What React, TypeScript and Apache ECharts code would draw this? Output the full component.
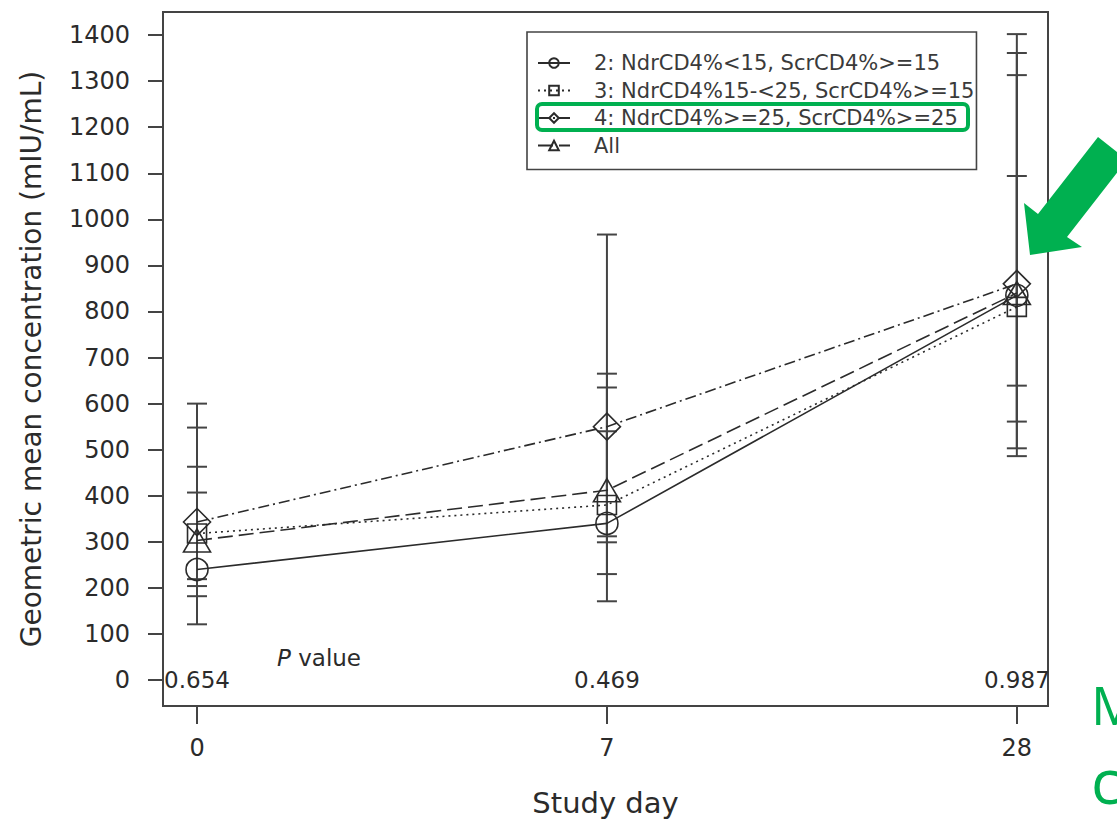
import React, { useEffect, useRef } from "react";
import * as echarts from "echarts";

// ---- data ----
const DAYS = ["0", "7", "28"];
const X_INDEX = [0, 1, 2];
const Y_TICKS = [0, 100, 200, 300, 400, 500, 600, 700, 800, 900, 1000, 1100, 1200, 1300, 1400];
const P_VALUES = ["0.654", "0.469", "0.987"];

const SERIES_NAMES = [
  "2: NdrCD4%<15, ScrCD4%>=15",
  "3: NdrCD4%15-<25, ScrCD4%>=15",
  "4: NdrCD4%>=25, ScrCD4%>=25",
  "All",
];
const G2_MEAN = [240, 340, 835];
const G2_LOW = [121, 171, 503];
const G2_HIGH = [463, 665, 1402];
const G3_MEAN = [318, 380, 810];
const G3_LOW = [182, 230, 486];
const G3_HIGH = [548, 635, 1361];
const G4_MEAN = [343, 550, 860];
const G4_LOW = [204, 299, 561];
const G4_HIGH = [600, 967, 1313];
const ALL_MEAN = [303, 412, 840];
const ALL_LOW = [219, 312, 639];
const ALL_HIGH = [407, 540, 1094];

const MEANS = [G2_MEAN, G3_MEAN, G4_MEAN, ALL_MEAN];
const LOWS = [G2_LOW, G3_LOW, G4_LOW, ALL_LOW];
const HIGHS = [G2_HIGH, G3_HIGH, G4_HIGH, ALL_HIGH];

const FONT = "DejaVu Sans";
const INK = "#2b2b2b";
const GREEN = "#00B050";

const SYMBOLS = ["circle", "rect", "diamond", "triangle"];
const SYMBOL_SIZES: any[] = [22, 19, [27, 27], [27, 23]];
const DASHES: any[] = ["solid", [2, 4], [11, 4, 2, 4], [15, 6]];

export default function App() {
  const ref = useRef<HTMLDivElement>(null);
  useEffect(() => {
    if (!ref.current) return;
    const chart = echarts.init(ref.current, null, { renderer: "svg" });

    const lineSeries = SERIES_NAMES.map((name, i) => ({
      name,
      type: "line",
      data: X_INDEX.map((x, j) => [x, MEANS[i][j]]),
      symbol: SYMBOLS[i],
      symbolSize: SYMBOL_SIZES[i],
      showAllSymbol: true,
      itemStyle: { color: "rgba(0,0,0,0)", borderColor: INK, borderWidth: 1.6 },
      lineStyle: { color: INK, width: 1.6, type: DASHES[i] },
      z: 3,
    }));

    const errData: any[] = [];
    for (let i = 0; i < MEANS.length; i++) {
      X_INDEX.forEach((x, j) => errData.push([x, LOWS[i][j], HIGHS[i][j]]));
    }

    const errSeries = {
      name: "err",
      type: "custom",
      data: errData,
      encode: { x: 0, y: [1, 2] },
      z: 2,
      renderItem: (params: any, api: any) => {
        const x = api.value(0);
        const lo = api.coord([x, api.value(1)]);
        const hi = api.coord([x, api.value(2)]);
        const w = 10;
        const st = { stroke: "#444", lineWidth: 2 };
        return {
          type: "group",
          children: [
            { type: "line", shape: { x1: lo[0], y1: lo[1], x2: hi[0], y2: hi[1] }, style: st },
            { type: "line", shape: { x1: lo[0] - w, y1: lo[1], x2: lo[0] + w, y2: lo[1] }, style: st },
            { type: "line", shape: { x1: hi[0] - w, y1: hi[1], x2: hi[0] + w, y2: hi[1] }, style: st },
          ],
        };
      },
    };

    const pSeries = {
      name: "pvalues",
      type: "scatter",
      data: X_INDEX.map((x) => [x, 0]),
      symbolSize: 0,
      silent: true,
      itemStyle: { opacity: 1, color: INK },
      label: {
        show: true,
        position: "inside",
        formatter: (p: any) => P_VALUES[p.dataIndex],
        fontFamily: FONT,
        fontSize: 23,
        color: INK,
        opacity: 1,
        textBorderWidth: 0,
      },
      z: 4,
    };

    chart.setOption({
      animation: false,
      backgroundColor: "#fff",
      textStyle: { fontFamily: FONT },
      grid: {
        left: 163,
        right: 69,
        top: 12,
        bottom: 115,
        show: true,
        borderColor: "#444",
        borderWidth: 2,
        backgroundColor: "transparent",
      },
      legend: {
        data: SERIES_NAMES,
        orient: "vertical",
        left: 527,
        top: 32,
        itemWidth: 32,
        itemHeight: 12,
        itemGap: 5.5,
        padding: [20, 2, 13, 10],
        borderColor: "#444",
        borderWidth: 1.6,
        backgroundColor: "#fff",
        textStyle: {
          fontFamily: FONT,
          fontSize: 21,
          color: "#3a3a3a",
          lineHeight: 22,
          padding: [0, 0, 0, 19],
        },
      },
      xAxis: {
        type: "value",
        min: -0.083,
        max: 2.076,
        splitLine: { show: false },
        axisLine: { show: true, onZero: false, lineStyle: { color: "#444", width: 2 } },
        axisTick: {
          show: true,
          customValues: X_INDEX,
          length: 18,
          lineStyle: { color: "#444", width: 2 },
        },
        axisLabel: {
          customValues: X_INDEX,
          formatter: (v: number) => DAYS[Math.round(v)],
          fontFamily: FONT,
          fontSize: 24,
          color: INK,
          margin: 30,
        },
        name: "Study day",
        nameLocation: "middle",
        nameGap: 82,
        nameTextStyle: { fontFamily: FONT, fontSize: 29, color: INK },
      },
      yAxis: {
        type: "value",
        min: -56.3,
        max: 1450,
        splitLine: { show: false },
        axisLine: { show: true, onZero: false, lineStyle: { color: "#444", width: 2 } },
        axisTick: {
          show: true,
          customValues: Y_TICKS,
          length: 15,
          lineStyle: { color: "#444", width: 2 },
        },
        axisLabel: {
          customValues: Y_TICKS,
          formatter: (v: number) => String(Math.round(v)),
          fontFamily: FONT,
          fontSize: 24,
          color: INK,
          margin: 33,
        },
        name: "Geometric mean concentration (mIU/mL)",
        nameLocation: "middle",
        nameGap: 118,
        nameTextStyle: { fontFamily: FONT, fontSize: 28, color: INK },
      },
      series: [errSeries, ...lineSeries, pSeries],
      graphic: [
        {
          type: "text",
          x: 277,
          y: 658,
          z: 10,
          style: {
            text: "{i|P} value",
            fontFamily: FONT,
            fontSize: 23,
            fill: INK,
            verticalAlign: "middle",
            rich: { i: { fontStyle: "italic", fontFamily: FONT, fontSize: 23, fill: INK } },
          },
        },
        {
          type: "rect",
          z: 20,
          shape: { x: 537, y: 104, width: 431, height: 26, r: 5 },
          style: { fill: "none", stroke: GREEN, lineWidth: 4 },
        },
        {
          type: "polygon",
          z: 20,
          shape: {
            points: [
              [1098, 137],
              [1038, 214],
              [1024, 203],
              [1030, 255],
              [1082, 247],
              [1067, 237],
              [1127, 160],
            ],
          },
          style: { fill: GREEN },
        },
        {
          type: "text",
          x: 1091,
          y: 704,
          z: 20,
          style: { text: "M", fontFamily: "Open Sans", fontSize: 53, fill: GREEN, verticalAlign: "middle" },
        },
        {
          type: "text",
          x: 1091,
          y: 780,
          z: 20,
          style: { text: "c", fontFamily: "Open Sans", fontSize: 62, fill: GREEN, verticalAlign: "middle" },
        },
      ],
    });
    return () => chart.dispose();
  }, []);
  return (
    <div
      ref={ref}
      style={{ position: "absolute", left: 0, top: 0, width: 1117, height: 822, background: "#fff" }}
    />
  );
}
